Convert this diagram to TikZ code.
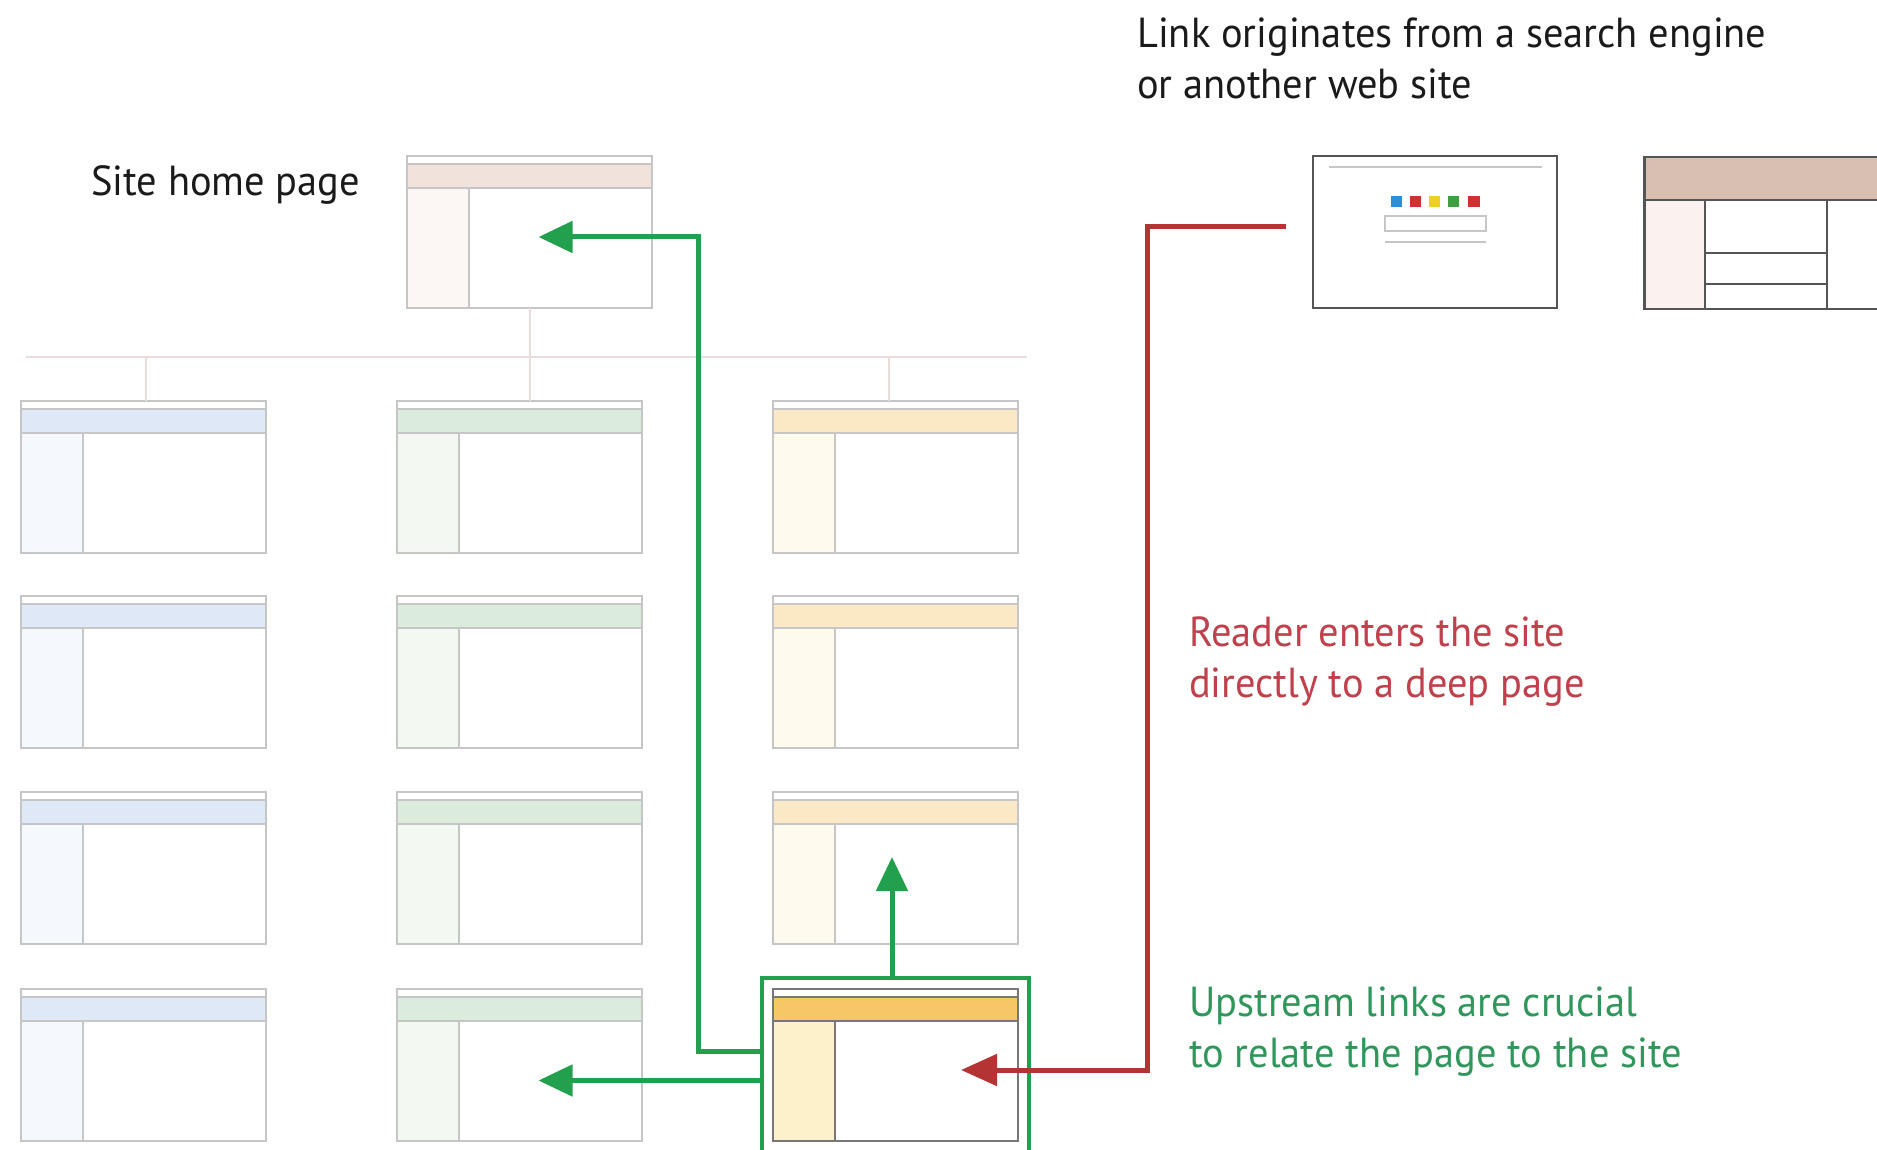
\documentclass[tikz,border=0pt]{standalone}
\usepackage{fontspec}
\setmainfont[FakeStretch=0.962]{PT Sans}
\usetikzlibrary{arrows.meta,fit}
\definecolor{boxgray}{HTML}{C6C6C6}
\definecolor{darkline}{HTML}{555555}
\definecolor{hlline}{HTML}{777777}
\definecolor{treeline}{HTML}{EADCDC}
\definecolor{homehdr}{HTML}{F1E3DC}
\definecolor{homeside}{HTML}{FCF6F4}
\definecolor{bluehdr}{HTML}{DFE8F7}
\definecolor{blueside}{HTML}{F5F8FD}
\definecolor{greenhdr}{HTML}{DCECDC}
\definecolor{greenside}{HTML}{F3F8F3}
\definecolor{yelhdr}{HTML}{FBE9C6}
\definecolor{yelside}{HTML}{FEFAEE}
\definecolor{hlhdr}{HTML}{F5C766}
\definecolor{hlside}{HTML}{FDF1CC}
\definecolor{otherhdr}{HTML}{D8BFB2}
\definecolor{otherside}{HTML}{FBF2F0}
\definecolor{arrowgreen}{HTML}{23A04E}
\definecolor{arrowred}{HTML}{B43434}
\definecolor{textred}{HTML}{C0404C}
\definecolor{textgreen}{HTML}{30975C}
\definecolor{textblack}{HTML}{1A1A1A}
\definecolor{gblue}{HTML}{2A8FD8}
\definecolor{gred}{HTML}{D03030}
\definecolor{gyellow}{HTML}{F0D020}
\definecolor{ggreen}{HTML}{40A040}
\tikzset{
  page/.style n args={3}{draw=#3, line width=2pt, fill=white,
    minimum width=245pt, minimum height=152pt, inner sep=0pt, outer sep=0pt,
    path picture={
      \fill[#1] ([yshift=-8pt]path picture bounding box.north west) rectangle ([yshift=-32pt]path picture bounding box.north east);
      \fill[#2] ([yshift=-32pt]path picture bounding box.north west) rectangle ([xshift=62pt]path picture bounding box.south west);
      \draw[#3, line width=2pt]
        ([yshift=-8pt]path picture bounding box.north west) -- ([yshift=-8pt]path picture bounding box.north east)
        ([yshift=-32pt]path picture bounding box.north west) -- ([yshift=-32pt]path picture bounding box.north east)
        ([xshift=62pt,yshift=-32pt]path picture bounding box.north west) -- ([xshift=62pt]path picture bounding box.south west);
    }},
  bluepage/.style={page={bluehdr}{blueside}{boxgray}},
  greenpage/.style={page={greenhdr}{greenside}{boxgray}},
  yelpage/.style={page={yelhdr}{yelside}{boxgray}},
  tree/.style={draw=treeline, line width=2pt},
  garrow/.style={draw=arrowgreen, line width=5pt, -{Triangle[length=34pt,width=31pt]}},
  rarrow/.style={draw=arrowred, line width=5pt, -{Triangle[length=36pt,width=31pt]}},
  txt/.style={font=\fontsize{42}{51}\selectfont, inner sep=0pt, align=left, anchor=north west}
}
\begin{document}
\begin{tikzpicture}[x=1pt,y=-1pt]
\useasboundingbox[fill=white] (0,0) rectangle (1877,1150);

% tree lines
\coordinate (tl) at (26,357);
\coordinate (tr) at (1027,357);
\draw[tree] (tl) -- (tr);

% pages
\node[page={homehdr}{homeside}{boxgray}] (home) at (529.5,232) {};
\foreach \r/\y in {1/477,2/672,3/868,4/1064.5}{
  \node[bluepage] (p\r1) at (143,\y) {};
  \node[greenpage] (p\r2) at (519.5,\y) {};
}
\foreach \r/\y in {1/477,2/672,3/868}{
  \node[yelpage] (p\r3) at (895,\y) {};
}
\node[page={hlhdr}{hlside}{hlline}] (p43) at (895,1064.5) {};
\node[draw=arrowgreen, line width=4pt, inner sep=11pt, fit=(p43)] (hl) {};

\draw[tree] (home.south) -- (home.south |- p12.north);
\draw[tree] ([xshift=3pt]p11.north) -- ([xshift=3pt]p11.north |- tl);
\draw[tree] ([xshift=-6pt]p13.north) -- ([xshift=-6pt]p13.north |- tl);

% search engine page
\node[draw=darkline, line width=2.5pt, fill=white, minimum width=244pt, minimum height=152pt, inner sep=0pt] (search) at (1435,232) {};
\draw[boxgray, line width=2pt] (1329,167) -- (1542,167);
\fill[gblue] (1391,196) rectangle (1402,207);
\fill[gred] (1410,196) rectangle (1421,207);
\fill[gyellow] (1429,196) rectangle (1440,207);
\fill[ggreen] (1448,196) rectangle (1459,207);
\fill[gred] (1468,196) rectangle (1480,207);
\draw[boxgray, line width=2pt] (1385,216) rectangle (1486,231);
\draw[boxgray, line width=2pt] (1385,242) -- (1486,242);

% another web site (cut off at the right)
\begin{scope}
\clip (1600,100) rectangle (1877,340);
\fill[otherhdr] (1643,156) rectangle (1960,200);
\fill[otherside] (1643,200) rectangle (1705,308);
\node[draw=darkline, line width=2.5pt, minimum width=317pt, minimum height=152pt, inner sep=0pt, anchor=north west] (other) at (1643,156) {};
\draw[darkline, line width=2.5pt] (1643,200) -- (1960,200)
  (1705,200) -- (1705,308) (1827,200) -- (1827,308)
  (1705,253) -- (1827,253) (1705,284) -- (1827,284);
\end{scope}

% green arrows (upstream links)
\coordinate (g1) at (698,237);
\draw[garrow] ([yshift=13pt]hl.west) -| (g1) -- ([xshift=9pt,yshift=-5pt]home.center);
\coordinate (t2) at ([xshift=19pt]p42.center);
\draw[garrow] ([yshift=-16pt]hl.west) -- ([yshift=-16pt]hl.west -| t2);
\coordinate (t3) at ([yshift=11pt]p33.center);
\draw[garrow] ([xshift=-3pt]hl.north) -- ([xshift=-3pt]hl.north |- t3);

% red arrow (entry from outside)
\coordinate (rs) at ([xshift=-26pt,yshift=5pt]search.west);
\coordinate (rt) at ([xshift=66pt,yshift=-5.5pt]p43.center);
\draw[rarrow] (rs) -| ([xshift=186pt]rt) -- (rt);

% labels
\node[txt, text=textblack] (lhome) at (91,165) {Site home page};
\node[txt, text=textblack] (llink) at (1137,18) {Link originates from a search engine\\or another web site};
\node[txt, text=textred] (lred) at (1189,617) {Reader enters the site\\directly to a deep page};
\node[txt, text=textgreen] (lgreen) at (1189,987) {Upstream links are crucial\\to relate the page to the site};
\end{tikzpicture}
\end{document}
